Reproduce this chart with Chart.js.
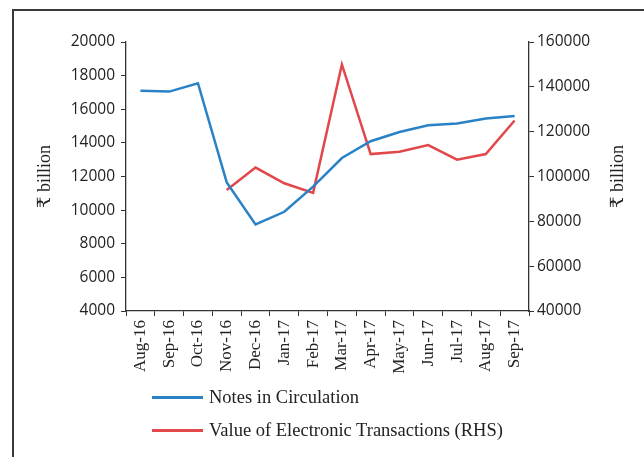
<!DOCTYPE html>
<html lang="en">
  <head>
    <meta charset="UTF-8" />
    <title>Notes in Circulation vs Electronic Transactions</title>
    <script src="https://cdn.jsdelivr.net/npm/chart.js"></script>
    <style>
      html, body { margin: 0; padding: 0; background: #fff; overflow: hidden; }
      #wrap { position: relative; width: 644px; height: 457px; }
      /* frame round the figure, only left and top edges show */
      #frame {
        position: absolute; left: 12px; top: 9px; width: 700px; height: 500px;
        border-left: 2px solid #3a3a3a; border-top: 2px solid #3a3a3a;
      }
      #chart { position: absolute; left: 0; top: 0; }
      .legend { position: absolute; left: 152px; font-family: "Liberation Serif", "DejaVu Serif", serif;
        font-size: 18.5px; color: #222; }
      .legend div { position: relative; height: 33px; line-height: 33px; padding-left: 57px; }
      .legend span { position: absolute; left: 0; top: 15px; width: 51px; height: 3px; }
    </style>
  </head>
  <body>
    <div id="wrap">
      <div id="frame"></div>
      <canvas id="chart" width="644" height="457"></canvas>
      <div class="legend" style="top: 381px">
        <div><span style="background: #2a82c6"></span>Notes in Circulation</div>
        <div><span style="background: #e2474b"></span>Value of Electronic Transactions (RHS)</div>
      </div>
    </div>

    <script>
      var months = ["Aug-16", "Sep-16", "Oct-16", "Nov-16", "Dec-16", "Jan-17", "Feb-17",
        "Mar-17", "Apr-17", "May-17", "Jun-17", "Jul-17", "Aug-17", "Sep-17"];
      // ₹ billion, left axis
      var notesInCirculation = [17100, 17050, 17550, 11650, 9150, 9900, 11400,
        13100, 14100, 14650, 15050, 15150, 15450, 15600];
      // ₹ billion, right axis
      var electronicTxns = [null, null, null, 94000, 104000, 97000, 92700,
        150000, 110000, 111000, 114000, 107500, 110000, 125000];

      var axisColor = "#333";
      var numFont = { family: "'Open Sans', 'Liberation Sans', sans-serif", size: 15.5 };
      var serifFont = { family: "'Liberation Serif', 'DejaVu Serif', serif", size: 17 };
      var plain = function (v) { return String(v); };

      // axis titles read bottom-to-top on both sides
      var axisTitles = {
        id: "axisTitles",
        afterDraw: function (chart) {
          var ctx = chart.ctx;
          var a = chart.chartArea;
          var mid = (a.top + a.bottom) / 2;
          ctx.save();
          ctx.fillStyle = "#222";
          ctx.font = "18px 'Liberation Serif', 'DejaVu Serif', serif";
          ctx.textAlign = "center";
          ctx.textBaseline = "middle";
          [45, 618].forEach(function (x) {
            ctx.save();
            ctx.translate(x, mid);
            ctx.rotate(-Math.PI / 2);
            ctx.fillText("₹ billion", 0, 0);
            ctx.restore();
          });
          ctx.restore();
        },
      };

      new Chart(document.getElementById("chart"), {
        type: "line",
        data: {
          labels: months,
          datasets: [
            {
              label: "Notes in Circulation",
              data: notesInCirculation,
              borderColor: "#2a82c6",
              borderWidth: 2.5,
              pointRadius: 0,
              yAxisID: "y",
            },
            {
              label: "Value of Electronic Transactions (RHS)",
              data: electronicTxns,
              borderColor: "#e2474b",
              borderWidth: 2.5,
              pointRadius: 0,
              yAxisID: "y1",
            },
          ],
        },
        plugins: [axisTitles],
        options: {
          responsive: false,
          animation: false,
          layout: { padding: { top: 42 } },
          plugins: { legend: { display: false }, tooltip: { enabled: false } },
          scales: {
            x: {
              offset: true,
              grid: { offset: true, drawOnChartArea: false, tickLength: 5, color: axisColor },
              border: { color: axisColor, width: 1.3 },
              ticks: { color: "#222", font: serifFont, minRotation: 90, maxRotation: 90, padding: 4, autoSkip: false },
              afterFit: function (s) { s.height = 146; },
            },
            y: {
              position: "left",
              min: 4000,
              max: 20000,
              grid: { drawOnChartArea: false, tickLength: 5, color: axisColor },
              border: { color: axisColor, width: 1.3 },
              ticks: { stepSize: 2000, color: "#222", font: numFont, padding: 6, callback: plain },
              afterFit: function (s) { s.width = 126; },
            },
            y1: {
              position: "right",
              min: 40000,
              max: 160000,
              grid: { drawOnChartArea: false, tickLength: 5, color: axisColor },
              border: { color: axisColor, width: 1.3 },
              ticks: { stepSize: 20000, color: "#222", font: numFont, padding: 3, callback: plain },
              afterFit: function (s) { s.width = 115; },
            },
          },
        },
      });
    </script>
  </body>
</html>
